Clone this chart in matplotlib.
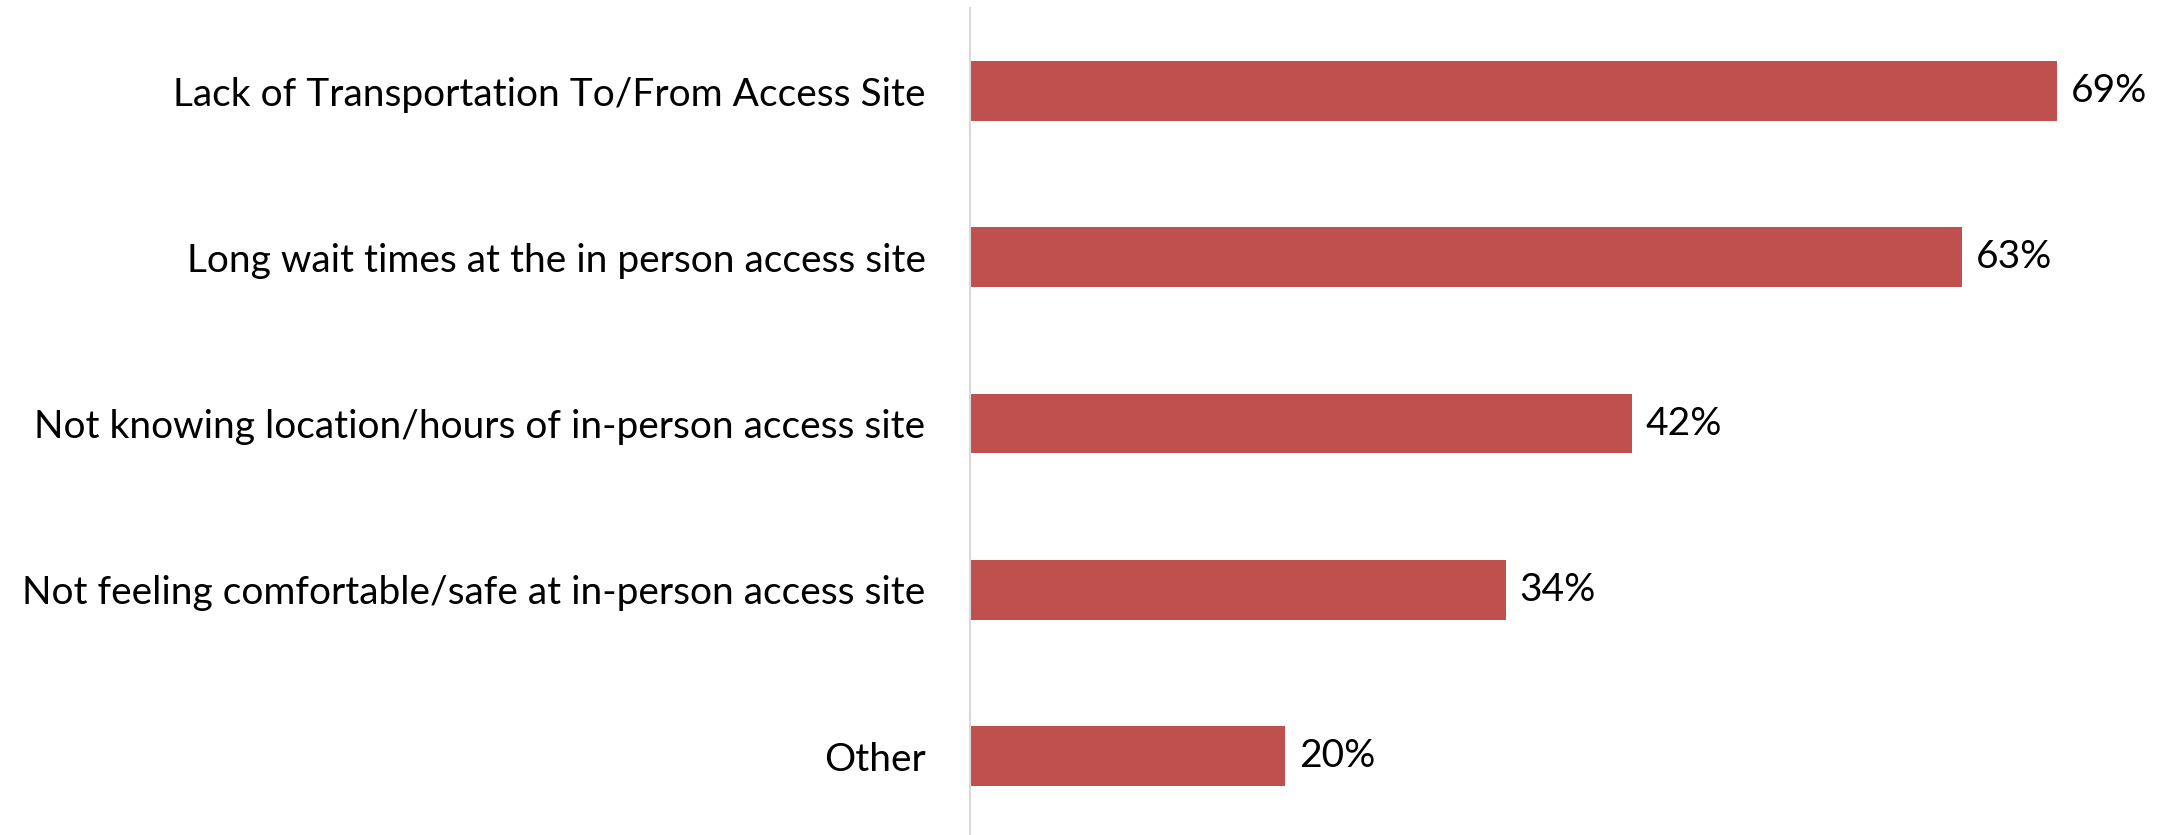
import matplotlib
matplotlib.use("Agg")
import matplotlib.pyplot as plt

categories = [
    "Lack of Transportation To/From Access Site",
    "Long wait times at the in person access site",
    "Not knowing location/hours of in-person access site",
    "Not feeling comfortable/safe at in-person access site",
    "Other",
]
values = [0.69, 0.63, 0.42, 0.34, 0.20]
value_labels = ["69%", "63%", "42%", "34%", "20%"]

plt.rcParams['font.family'] = ['Lato', 'DejaVu Sans']

W, H, DPI = 2164, 835, 100
fig = plt.figure(figsize=(W / DPI, H / DPI), dpi=DPI)
ax = fig.add_axes([970 / W, 0, 1 - 970 / W, 1 - 8 / H])

ypos = list(range(len(categories)))
ax.barh(ypos, values, height=0.36, color="#C0504D")
for y, v, lab in zip(ypos, values, value_labels):
    ax.annotate(lab, (v, y), xytext=(10, 0), textcoords="offset points",
                va="center", ha="left", fontsize=28, color="black")

ax.set_xlim(0, 0.758)
ax.set_ylim(4.475, -0.5)
ax.set_yticks(ypos)
ax.set_yticklabels(categories, fontsize=28)
ax.tick_params(axis="y", length=0, pad=32)
ax.set_xticks([])
for s in ["top", "right", "bottom"]:
    ax.spines[s].set_visible(False)
ax.spines["left"].set_color("#D9D9D9")
ax.spines["left"].set_linewidth(1.5)

fig.savefig("out.png", dpi=DPI)
